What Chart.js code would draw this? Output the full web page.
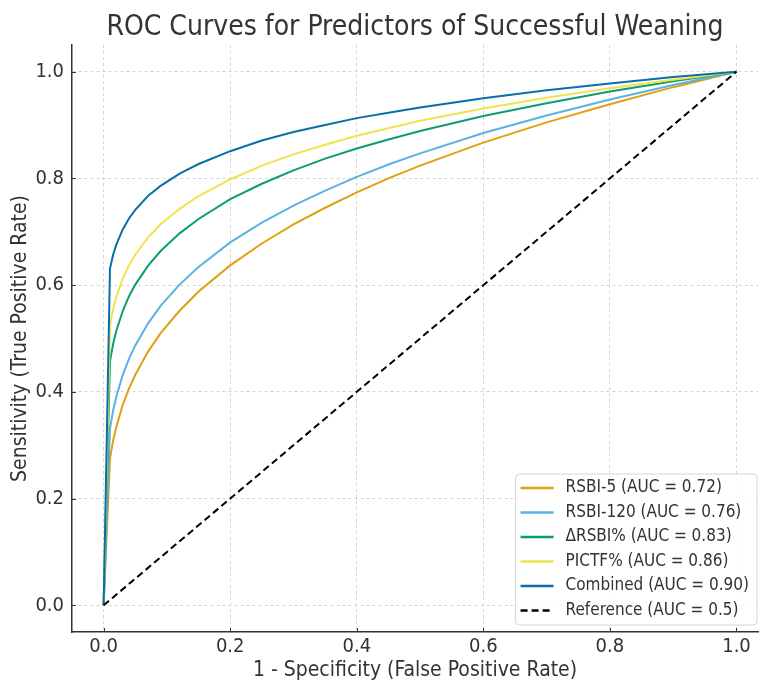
<!DOCTYPE html>
<html>
<head>
<meta charset="utf-8">
<script src="https://cdn.jsdelivr.net/npm/chart.js@4.4.0/dist/chart.umd.min.js"></script>
<style>
  html, body { margin: 0; padding: 0; background: #fff; }
  #wrap { width: 760px; height: 684px; }
</style>
</head>
<body>
<div id="wrap"><canvas id="roc" width="760" height="684"></canvas></div>
<script>
  // false positive rate samples shared by every curve
  const fpr = [0, 0.01, 0.015, 0.02, 0.03, 0.04, 0.05, 0.07, 0.09, 0.12, 0.15,
    0.2, 0.25, 0.3, 0.35, 0.4, 0.45, 0.5, 0.6, 0.7, 0.8, 0.9, 1.0];

  const names = ['RSBI-5', 'RSBI-120', '\u0394RSBI%', 'PICTF%', 'Combined'];
  const aucs = ['0.72', '0.76', '0.83', '0.86', '0.90'];
  const colors = ['#E0A010', '#5AB2E0', '#0C9C72', '#EFE350', '#0A6FA8'];

  const tprRsbi5 = [0, 0.275, 0.309, 0.334, 0.375, 0.406, 0.432, 0.475, 0.510, 0.552, 0.588,
    0.637, 0.678, 0.714, 0.745, 0.774, 0.800, 0.824, 0.867, 0.905, 0.939, 0.971, 1.0];
  const tprRsbi120 = [0, 0.331, 0.365, 0.391, 0.431, 0.462, 0.487, 0.528, 0.561, 0.601, 0.634,
    0.680, 0.717, 0.749, 0.777, 0.803, 0.826, 0.847, 0.885, 0.918, 0.948, 0.975, 1.0];
  const tprDeltaRsbi = [0, 0.457, 0.490, 0.514, 0.551, 0.579, 0.601, 0.636, 0.664, 0.697, 0.724,
    0.761, 0.790, 0.815, 0.837, 0.856, 0.873, 0.889, 0.917, 0.941, 0.963, 0.982, 1.0];
  const tprPictf = [0, 0.525, 0.555, 0.578, 0.612, 0.637, 0.657, 0.689, 0.714, 0.743, 0.767,
    0.798, 0.824, 0.845, 0.863, 0.880, 0.894, 0.908, 0.931, 0.951, 0.969, 0.985, 1.0];
  const tprCombined = [0, 0.631, 0.657, 0.676, 0.704, 0.725, 0.741, 0.767, 0.786, 0.809, 0.827,
    0.851, 0.871, 0.887, 0.900, 0.913, 0.923, 0.933, 0.950, 0.965, 0.978, 0.990, 1.0];

  const refX = [0, 1];
  const refY = [0, 1];

  const tickVals = [0, 0.2, 0.4, 0.6, 0.8, 1.0];

  const FONT = '"DejaVu Sans Condensed", "DejaVu Sans", sans-serif';
  const TEXT = '#333333';

  const series = [tprRsbi5, tprRsbi120, tprDeltaRsbi, tprPictf, tprCombined];

  const datasets = series.map((ys, i) => ({
    label: names[i] + ' (AUC = ' + aucs[i] + ')',
    data: fpr.map((x, k) => ({ x: x, y: ys[k] })),
    borderColor: colors[i],
    backgroundColor: colors[i],
    borderWidth: 2,
    pointRadius: 0,
    tension: 0,
    fill: false,
    order: 10 - i
  }));
  datasets.push({
    label: 'Reference (AUC = 0.5)',
    data: refX.map((x, k) => ({ x: x, y: refY[k] })),
    borderColor: '#000000',
    backgroundColor: '#000000',
    borderWidth: 2,
    borderDash: [7, 4],
    pointRadius: 0,
    fill: false,
    order: 0
  });

  // legend box drawn inside the plot, lower right
  const rocLegend = {
    id: 'rocLegend',
    afterDraw(chart) {
      const ctx = chart.ctx;
      const area = chart.chartArea;
      ctx.save();
      ctx.font = '17px ' + FONT;
      const labels = chart.data.datasets.map(d => d.label);
      const textW = Math.max(...labels.map(t => ctx.measureText(t).width));
      const rowH = 24.5;
      const w = 50 + textW + 8;
      const h = rowH * labels.length + 4;
      const right = area.right - 1;
      const bottom = area.bottom - 7;
      const left = right - w;
      const top = bottom - h;

      ctx.beginPath();
      ctx.roundRect(left, top, w, h, 4);
      ctx.fillStyle = 'rgba(255,255,255,0.85)';
      ctx.fill();
      ctx.strokeStyle = '#d6d6d6';
      ctx.lineWidth = 1;
      ctx.stroke();

      chart.data.datasets.forEach((d, i) => {
        const cy = top + 14 + i * rowH;
        ctx.beginPath();
        ctx.setLineDash(d.borderDash || []);
        ctx.strokeStyle = d.borderColor;
        ctx.lineWidth = 2.5;
        ctx.moveTo(left + 5, cy);
        ctx.lineTo(left + 38, cy);
        ctx.stroke();
        ctx.setLineDash([]);
        ctx.fillStyle = TEXT;
        ctx.textBaseline = 'middle';
        ctx.textAlign = 'left';
        ctx.fillText(d.label, left + 50, cy);
      });
      ctx.restore();
    }
  };

  // inward tick marks on the two spines
  const innerTicks = {
    id: 'innerTicks',
    afterDraw(chart) {
      const ctx = chart.ctx;
      const xs = chart.scales.x, ys = chart.scales.y;
      const area = chart.chartArea;
      ctx.save();
      ctx.strokeStyle = TEXT;
      ctx.lineWidth = 1;
      tickVals.forEach(v => {
        const px = Math.round(xs.getPixelForValue(v)) + 0.5;
        ctx.beginPath();
        ctx.moveTo(px, area.bottom);
        ctx.lineTo(px, area.bottom - 4);
        ctx.stroke();
        const py = Math.round(ys.getPixelForValue(v)) + 0.5;
        ctx.beginPath();
        ctx.moveTo(area.left, py);
        ctx.lineTo(area.left + 4, py);
        ctx.stroke();
      });
      ctx.restore();
    }
  };

  const setTicks = scale => { scale.ticks = tickVals.map(v => ({ value: v })); };

  new Chart(document.getElementById('roc'), {
    type: 'line',
    data: { datasets: datasets },
    plugins: [rocLegend, innerTicks],
    options: {
      responsive: false,
      animation: false,
      devicePixelRatio: 1,
      layout: { padding: { left: 0, right: 2, top: 0, bottom: 0 } },
      plugins: {
        legend: { display: false },
        tooltip: { enabled: false },
        title: {
          display: true,
          fullSize: false,
          text: 'ROC Curves for Predictors of Successful Weaning',
          color: TEXT,
          font: { family: FONT, size: 28, weight: 'normal', lineHeight: 1.1 },
          padding: { top: 12, bottom: 2.2 }
        }
      },
      scales: {
        x: {
          type: 'linear',
          min: -0.05,
          max: 1.034,
          afterBuildTicks: setTicks,
          afterFit: s => { s.height = 52; },
          ticks: {
            color: TEXT,
            padding: 3,
            maxRotation: 0,
            font: { family: FONT, size: 20 },
            callback: v => v.toFixed(1)
          },
          grid: { color: '#d4d4d4', lineWidth: 1, drawTicks: false },
          border: { display: true, color: TEXT, width: 1.5, dash: [3, 3] },
          title: {
            display: true,
            text: '1 - Specificity (False Positive Rate)',
            color: TEXT,
            font: { family: FONT, size: 21 },
            padding: { top: 0, bottom: 0.5 }
          }
        },
        y: {
          type: 'linear',
          min: -0.05,
          max: 1.05,
          afterBuildTicks: setTicks,
          afterFit: s => { s.width = 72; },
          ticks: {
            color: TEXT,
            padding: 8,
            font: { family: FONT, size: 20 },
            callback: v => v.toFixed(1)
          },
          grid: { color: '#d4d4d4', lineWidth: 1, drawTicks: false },
          border: { display: true, color: TEXT, width: 1.5, dash: [3, 3] },
          title: {
            display: true,
            text: 'Sensitivity (True Positive Rate)',
            color: TEXT,
            font: { family: FONT, size: 21 },
            padding: { top: 7.5, bottom: 0 }
          }
        }
      }
    }
  });
</script>
</body>
</html>
